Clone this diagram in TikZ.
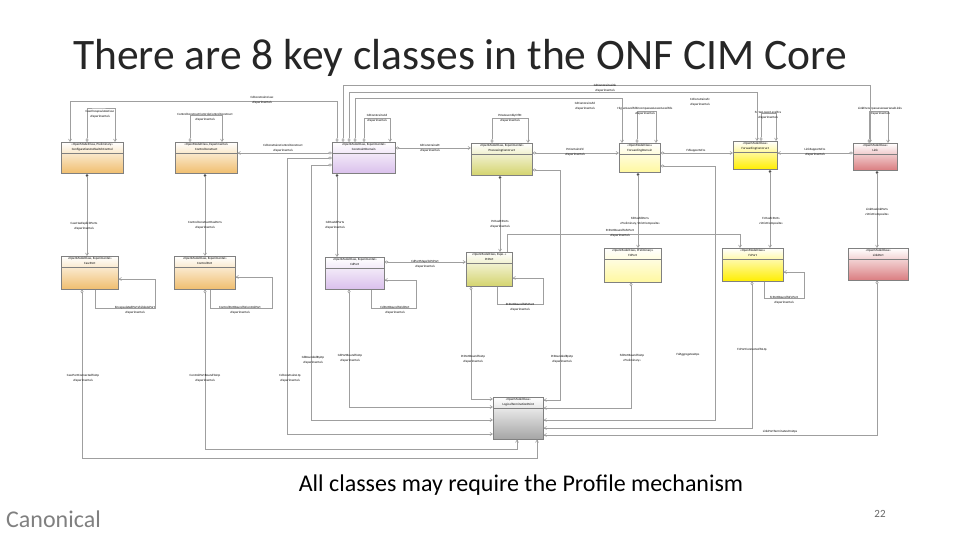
\documentclass[tikz,border=0pt]{standalone}
\usepackage{fontspec}
\setmainfont{Carlito}
\usetikzlibrary{arrows.meta, positioning}
\definecolor{cOrange}{RGB}{240,190,110}
\definecolor{cPurple}{RGB}{218,192,236}
\definecolor{cOlive}{RGB}{212,212,110}
\definecolor{cFd}{RGB}{255,248,160}
\definecolor{cFc}{RGB}{255,238,0}
\definecolor{cLink}{RGB}{218,125,128}
\definecolor{cLtp}{RGB}{165,165,165}
\tikzset{
  cls/.style={draw=gray, line width=0.5pt, top color=white, inner sep=0pt},
  stereo/.style={font=\fontsize{3.2}{3.6}\selectfont, inner sep=0pt},
  lbl/.style={font=\fontsize{3.2}{4.6}\selectfont, align=center, inner sep=0.5pt},
  link/.style={draw=gray!75, line width=0.6pt},
  comp/.style={link, {Diamond[fill=black,length=4pt,width=3pt]}-{Straight Barb[length=2.5pt,width=3pt]}},
  agg/.style={link, {Diamond[open,length=4pt,width=3pt]}-{Straight Barb[length=2.5pt,width=3pt]}},
}
% class box: name, x, y, width, height, stereotype, title, colour
\newcommand\umlclass[8]{%
  \node[cls, bottom color=#8, minimum width=#4, minimum height=#5, anchor=north west] (#1) at (#2,#3) {};
  \draw[gray] ([yshift=-11pt]#1.north west) -- ([yshift=-11pt]#1.north east);
  \node[stereo] at ([yshift=-3pt]#1.north) {#6};
  \node[stereo] at ([yshift=-7.8pt]#1.north) {#7};}
\begin{document}
\begin{tikzpicture}[x=1pt, y=-1pt]
  \useasboundingbox (0,0) rectangle (960,540);
  \fill[white] (0,0) rectangle (960,540);

  % title and footer
  \node[font=\fontsize{43.5}{48}\selectfont, text=black!85, anchor=base west, inner sep=0pt] (title) at (73,70) {There are 8 key classes in the ONF CIM Core};
  \node[font=\fontsize{24}{28}\selectfont, inner sep=0pt] (note) at (521,485) {All classes may require the Profile mechanism};
  \node[font=\fontsize{24}{28}\selectfont, text=gray, anchor=west, inner sep=0pt] (brand) at (6,519) {Canonical};
  \node[font=\fontsize{11}{12}\selectfont, text=gray!80!black, inner sep=0pt] (page) at (880,514) {22};

  % top row classes
  \umlclass{casc}{61}{142}{62pt}{31pt}{«OpenModelClass, Preliminary»}{ConfigurationAndSwitchControl}{cOrange}
  \umlclass{cc}{175}{142}{62pt}{31pt}{«OpenModelClass, Experimental»}{ControlConstruct}{cOrange}
  \umlclass{cd}{332}{142}{63pt}{31pt}{«OpenModelClass, Experimental»}{ConstraintDomain}{cPurple}
  \umlclass{pc}{471}{143}{61pt}{32pt}{«OpenModelClass, Experimental»}{ProcessingConstruct}{cOlive}
  \umlclass{fd}{619}{143}{41pt}{29pt}{«OpenModelClass»}{ForwardingDomain}{cFd}
  \umlclass{fc}{733}{141}{44pt}{28pt}{«OpenModelClass»}{ForwardingConstruct}{cFc}
  \umlclass{lk}{853}{143}{44pt}{27pt}{«OpenModelClass»}{Link}{cLink}
  % second row classes
  \umlclass{cascp}{61}{256}{57pt}{33pt}{«OpenModelClass, Experimental»}{CascPort}{cOrange}
  \umlclass{ccp}{174}{256}{61pt}{33pt}{«OpenModelClass, Experimental»}{ControlPort}{cOrange}
  \umlclass{cdp}{325}{257}{59pt}{32pt}{«OpenModelClass, Experimental»}{CdPort}{cPurple}
  \umlclass{pcp}{466}{252}{46pt}{34pt}{«OpenModelClass, Expe..»}{PcPort}{cOlive}
  \umlclass{fdp}{604}{248}{57pt}{34pt}{«OpenModelClass, Preliminary»}{FdPort}{cFd}
  \umlclass{fcp}{722}{248}{61pt}{33pt}{«OpenModelClass»}{FcPort}{cFc}
  \umlclass{lkp}{848}{248}{60pt}{32pt}{«OpenModelClass»}{LinkPort}{cLink}
  \umlclass{ltp}{493}{397}{50pt}{42pt}{«OpenModelClass»}{LogicalTerminationPoint}{cLtp}

  % class to port compositions
  \draw[comp] (casc.south -| 87,0) -- (cascp.north -| 87,0);
  \draw[comp] (cc.south -| 205,0) -- (ccp.north -| 205,0);
  \draw[comp] (cd.south -| 337,0) -- (cdp.north -| 337,0);
  \draw[comp] (pc.south -| 500,0) -- (pcp.north -| 500,0);
  \draw[comp] (fd.south -| 638,0) -- (fdp.north -| 638,0);
  \draw[comp] (fc.south -| 770,0) -- (fcp.north -| 770,0);
  \draw[comp] (lk.south -| 877,0) -- (lkp.north -| 877,0);
  \node[lbl] (l1) at (84,226) {CascHasExplicitPorts\\«Experimental»};
  \node[lbl] (l2) at (205,225) {ControlConstructHasPorts\\«Experimental»};
  \node[lbl] (l3) at (335,225) {CdHasCdPorts\\«Experimental»};
  \node[lbl] (l4) at (500,224) {PcHasPcPorts\\«Experimental»};
  \node[lbl] (l5) at (640,221) {FdHasFdPorts\\«Preliminary, StrictComposite»};
  \node[lbl] (l6) at (771,221) {FcHasFcPorts\\«StrictComposite»};
  \node[lbl] (l7) at (877,212) {LinkHasLinkPorts\\«StrictComposite»};

  % top row associations
  \draw[agg] (cd.west |- 0,153) -- (cc.east |- 0,153);
  \node[lbl] (l8) at (283,148) {CdConstrainsControlConstruct\\«Experimental»};
  \draw[agg] (cd.east |- 0,148) -- (pc.west |- 0,148);
  \node[lbl] (l9) at (430,148) {CdConstrainsPc\\«Experimental»};
  \draw[agg] (pc.east |- 0,153) -- (fd.west |- 0,153);
  \node[lbl] (l10) at (575,152) {PcContainsFd\\«Experimental»};
  \draw[agg] (fd.east |- 0,153) -- (fc.west |- 0,153);
  \node[lbl] (l11) at (696,151) {FdSupportsFcs};
  \draw[agg] (lk.west |- 0,153) -- (fc.east |- 0,153);
  \node[lbl] (l12) at (815,152) {LinkSupportsFcs\\«Experimental»};

  % self associations, top row
  \draw[agg] (casc.north -| 87,0) |- (96,108) -| (casc.north -| 115,0);
  \node[lbl] (s1) at (100,114) {CascEncapsulatesCasc\\«Experimental»};
  \draw[agg] (cc.north -| 190,0) |- (190,115) -| (cc.north -| 222,0);
  \node[lbl] (s2) at (205,117) {ControlConstructControlsControlConstruct\\«Experimental»};
  \draw[agg] (cd.north -| 364,0) |- (364,118) -| (cd.north -| 390,0);
  \node[lbl] (s3) at (377,118) {CdConstrainsCd\\«Experimental»};
  \draw[agg] (pc.north -| 492,0) |- (492,118) -| (pc.north -| 528,0);
  \node[lbl] (s4) at (510,118) {PcIsAssemblyOfPc\\«Experimental»};
  \draw[agg] (fd.north -| 637,0) |- (637,111) -| (fd.north -| 656,0);
  \node[lbl] (s5) at (645,111) {HigherLevelFdEncompassesLowerLevelFds\\«Experimental»};
  \draw[agg] (fc.north -| 761,0) |- (761,113) -| (fc.north -| 776,0);
  \node[lbl] (s6) at (768,115) {FcHasLowerLevelFcs\\«Experimental»};
  \draw[agg] (lk.north -| 869,0) |- (869,111) -| (lk.north -| 888,0);
  \node[lbl] (s7) at (880,111) {LinkEncompassesLowerLevelLinks\\«Experimental»};

  % long constraint domain associations
  \draw[agg] (cd.north -| 337,0) |- (70,101) -- (casc.north -| 70,0);
  \node[lbl] (c1) at (262,100) {CdConstrainsCasc\\«Experimental»};
  \draw[agg] (cd.north -| 343,0) |- (870,85) -- (lk.north -| 870,0);
  \node[lbl] (c2) at (605,88) {CdConstrainsLink\\«Experimental»};
  \draw[agg] (cd.north -| 349,0) |- (757,92) -- (fc.north -| 757,0);
  \node[lbl] (c3) at (700,102) {CdConstrainsFc\\«Experimental»};
  \draw[agg] (cd.north -| 355,0) |- (622,98) -- (fd.north -| 622,0);
  \node[lbl] (c4) at (585,106) {CdConstrainsFd\\«Experimental»};

  % second row associations
  \draw[agg] (cdp.east |- 0,262) -- (pcp.west |- 0,262);
  \node[lbl] (p1) at (425,264) {CdPortMapsToPcPort\\«Experimental»};
  \draw[link, -{Straight Barb[length=2.5pt,width=3pt]}] (pcp.north -| 507,0) |- (740,234) -- (fcp.north -| 740,0);
  \node[lbl] (p2) at (620,233) {PcPortBoundToFcPort\\«Experimental»};
  \draw[link, -{Straight Barb[length=2.5pt,width=3pt]}] (cascp.south -| 95,0) |- (155,308) |- (cascp.east |- 0,279);
  \node[lbl] (p3) at (135,310) {EncapsulatedPortVisibleAsPort\\«Experimental»};
  \draw[link, -{Straight Barb[length=2.5pt,width=3pt]}] (ccp.south -| 210,0) |- (272,308) |- (ccp.east |- 0,277);
  \node[lbl] (p4) at (240,310) {ControlPortBoundToControlPort\\«Experimental»};
  \draw[link, -{Straight Barb[length=2.5pt,width=3pt]}] (cdp.south -| 371,0) |- (416,308) |- (cdp.east |- 0,280);
  \node[lbl] (p5) at (395,310) {CdPortBoundToCdPort\\«Experimental»};
  \draw[link, -{Straight Barb[length=2.5pt,width=3pt]}] (pcp.south -| 497,0) |- (543,304) |- (pcp.east |- 0,278);
  \node[lbl] (p6) at (520,307) {PcPortBoundToPcPort\\«Experimental»};
  \draw[link, -{Straight Barb[length=2.5pt,width=3pt]}] (fcp.south -| 764,0) |- (804,298) |- (fcp.east |- 0,272);
  \node[lbl] (p7) at (784,300) {FcPortBoundToFcPort\\«Experimental»};

  % associations to the logical termination point
  \draw[agg] (cascp.south -| 82,0) |- (537,458) -- (ltp.south -| 537,0);
  \node[lbl] (t1) at (83,378) {CascPortConnectedToLtp\\«Experimental»};
  \draw[agg] (ccp.south -| 205,0) |- (517,449) -- (ltp.south -| 517,0);
  \node[lbl] (t2) at (205,378) {ControlPortBoundToLtp\\«Experimental»};
  \draw[agg] (cd.west |- 0,158) -| (287,434) -- (ltp.west |- 0,434);
  \node[lbl] (t3) at (290,378) {CdConstrainsLtp\\«Experimental»};
  \draw[agg] (cd.west |- 0,165) -| (311,420) -- (ltp.west |- 0,420);
  \node[lbl] (t4) at (313,360) {CdBoundedByLtp\\«Experimental»};
  \draw[agg] (cdp.south -| 349,0) |- (ltp.west |- 0,407);
  \node[lbl] (t5) at (350,358) {CdPortBoundToLtp\\«Experimental»};
  \draw[agg] (pcp.south -| 471,0) |- (ltp.west |- 0,399);
  \node[lbl] (t6) at (473,359) {PcPortBoundToLtp\\«Experimental»};
  \draw[agg] (pc.east |- 0,170) -| (560,400) -- (ltp.east |- 0,400);
  \node[lbl] (t7) at (562,359) {PcBoundedByLtp\\«Experimental»};
  \draw[agg] (fdp.south -| 631,0) |- (ltp.east |- 0,408);
  \node[lbl] (t8) at (632,358) {FdPortBoundToLtp\\«Preliminary»};
  \draw[agg] (fd.east |- 0,166) -| (715,420) -- (ltp.east |- 0,420);
  \node[lbl] (t9) at (688,355) {FdAggregatesLtps};
  \draw[agg] (fcp.south -| 752,0) |- (ltp.east |- 0,428);
  \node[lbl] (t10) at (752,350) {FcPortConnectedToLtp};
  \draw[agg] (lkp.south -| 877,0) |- (ltp.east |- 0,435);
  \node[lbl] (t11) at (780,432) {LinkPortTerminatesOnLtps};
\end{tikzpicture}
\end{document}
